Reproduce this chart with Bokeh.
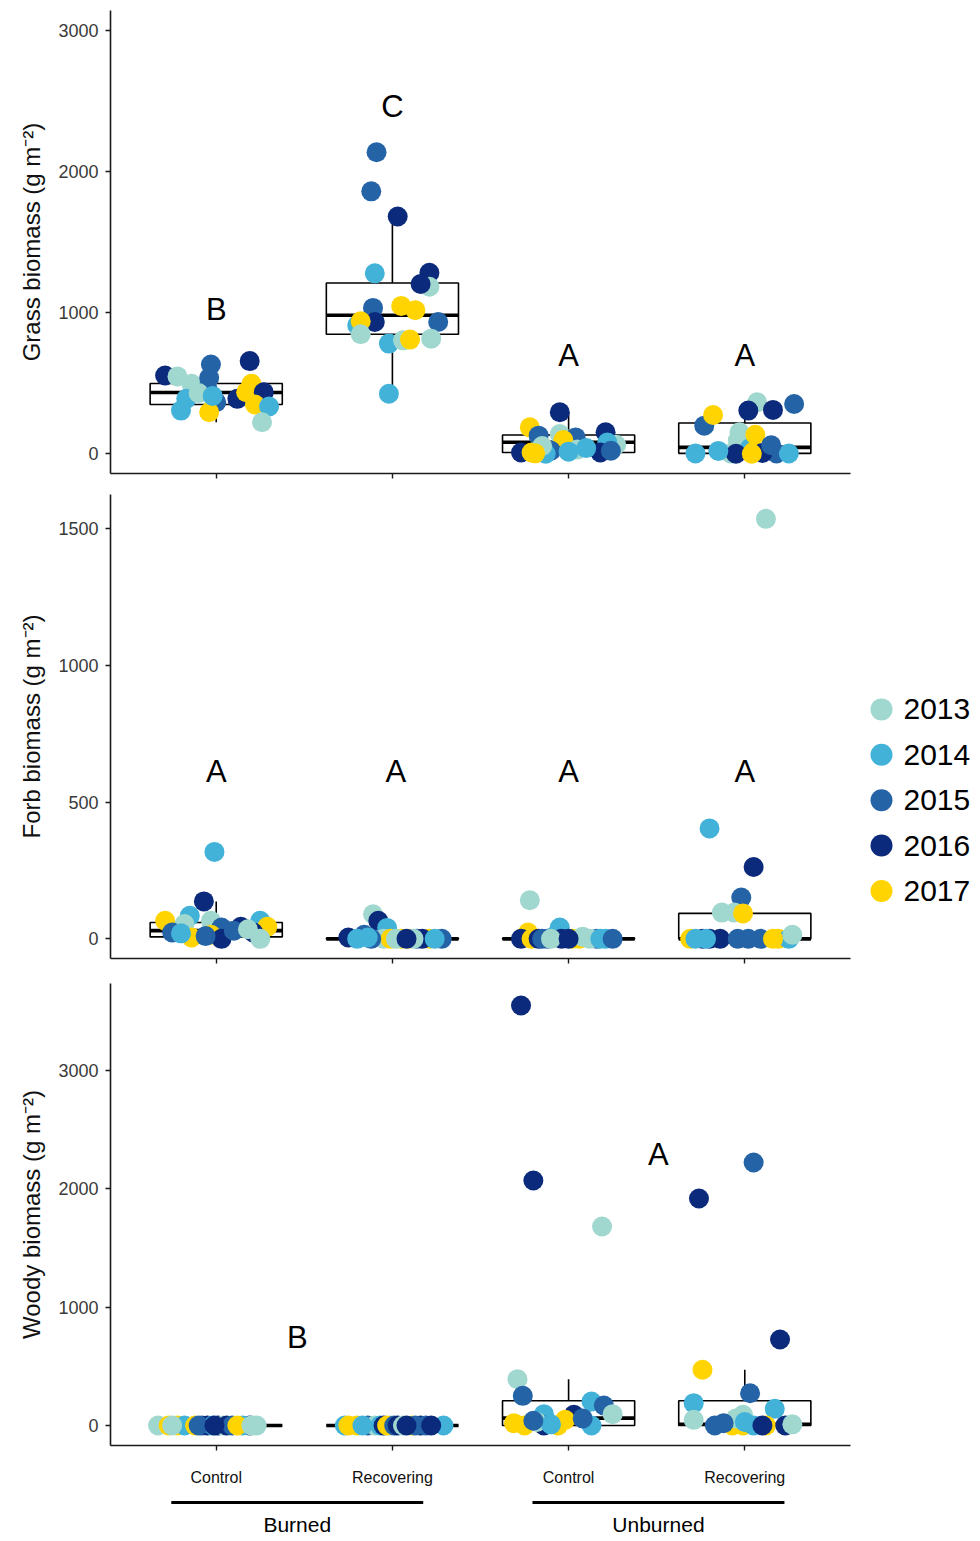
import numpy as np
from bokeh.plotting import figure
from bokeh.models import Range1d, FixedTicker
from bokeh.layouts import column, row
from bokeh.embed import file_html
from bokeh.resources import INLINE
from bokeh.core.properties import value

FONT = "Liberation Sans"

# ---------------- data ----------------
years = [2013, 2014, 2015, 2016, 2017]
year_colors = ["#a0d8cf", "#42b2d8", "#2563a7", "#0b2a7b", "#ffd400"]
group_pos = [1, 2, 3, 4]
group_labels = ["Control", "Recovering", "Control", "Recovering"]
treatments = ["Burned", "Unburned"]
treatment_center = [1.46, 3.51]

# Grass biomass: group index, year, value, horizontal jitter
grass_group = [1] * 20 + [2] * 20 + [3] * 20 + [4] * 20
grass_year = [
    2016, 2013, 2013, 2015, 2015, 2015, 2015, 2014, 2014, 2017, 2016, 2016, 2017, 2017, 2016, 2017, 2014, 2013, 2013, 2014,
    2015, 2015, 2016, 2014, 2016, 2013, 2016, 2015, 2017, 2017, 2016, 2015, 2014, 2017, 2013, 2014, 2013, 2017, 2013, 2014,
    2016, 2017, 2015, 2013, 2015, 2017, 2016, 2013, 2014, 2016, 2017, 2015, 2014, 2016, 2015, 2013, 2013, 2014, 2014, 2017,
    2013, 2016, 2016, 2015, 2015, 2017, 2013, 2013, 2014, 2017, 2014, 2013, 2017, 2015, 2014, 2016, 2016, 2015, 2014, 2017,
]
grass_value = [
    555, 548, 496, 633, 539, 460, 365, 389, 306, 294, 657, 389, 496, 436, 436, 349, 335, 223, 430, 410,
    2137, 1860, 1682, 1279, 1283, 1184, 1203, 1034, 1048, 1018, 934, 934, 911, 939, 847, 781, 804, 809, 816, 425,
    294, 187, 128, 140, 116, 97, 152, 64, 80, 9, 9, 21, 0, 9, 21, 30, 55, 40, 15, 3,
    365, 306, 311, 353, 199, 275, 152, 93, 40, 135, 2, 2, 16, 2, 2, 5, 0, 60, 20, 0,
]
grass_jitter = [
    -0.29, -0.22, -0.14, -0.03, -0.04, -0.05, 0.00, -0.17, -0.20, -0.04, 0.19, 0.12, 0.20, 0.17, 0.27, 0.22, 0.30, 0.26, -0.10, -0.02,
    -0.09, -0.12, 0.03, -0.10, 0.21, 0.21, 0.16, -0.11, 0.05, 0.13, -0.10, 0.26, -0.20, -0.18, -0.18, -0.02, 0.06, 0.10, 0.22, -0.02,
    -0.05, -0.22, -0.17, -0.05, 0.04, -0.03, 0.21, 0.27, 0.22, -0.27, -0.21, -0.10, -0.13, 0.18, 0.24, 0.05, -0.15, 0.10, 0.00, -0.19,
    0.07, 0.02, 0.16, 0.28, -0.23, -0.18, -0.03, -0.04, 0.03, 0.06, -0.28, -0.08, 0.05, 0.18, 0.25, 0.10, -0.05, 0.15, -0.15, 0.04,
]
grass_q1 = [349, 847, 9, 3]
grass_med = [434, 982, 82, 45]
grass_q3 = [498, 1210, 133, 218]
grass_lo = [223, 425, 0, 0]
grass_hi = [657, 1682, 294, 365]
grass_letters = ["B", "C", "A", "A"]
grass_letter_x = [1, 2, 3, 4]
grass_letter_y = [1025, 2463, 697, 697]

# Forb biomass
forb_group = [1] * 20 + [2] * 20 + [3] * 20 + [4] * 20
forb_year = [
    2014, 2016, 2014, 2017, 2013, 2015, 2013, 2015, 2016, 2014, 2017, 2016, 2017, 2017, 2016, 2013, 2015, 2015, 2013, 2014,
    2013, 2016, 2014, 2015, 2016, 2014, 2013, 2017, 2017, 2017, 2017, 2015, 2015, 2016, 2013, 2014, 2013, 2015, 2016, 2014,
    2013, 2014, 2017, 2016, 2017, 2016, 2015, 2014, 2016, 2017, 2017, 2013, 2015, 2014, 2013, 2015, 2014, 2013, 2016, 2015,
    2013, 2014, 2016, 2015, 2013, 2013, 2017, 2017, 2016, 2016, 2015, 2015, 2015, 2017, 2014, 2013, 2014, 2016, 2017, 2014,
]
forb_value = [
    318, 137, 84, 66, 54, 23, 66, 41, 44, 66, 44, 23, 5, 15, 0, 0, 10, 30, 35, 20,
    90, 66, 40, 15, 5, 0, 0, 0, 0, 0, 0, 0, 0, 0, 0, 0, 0, 0, 0, 5,
    141, 41, 23, 0, 0, 0, 0, 10, 0, 0, 0, 8, 0, 0, 0, 0, 0, 0, 0, 0,
    1537, 404, 263, 151, 96, 96, 93, 0, 0, 0, 0, 0, 0, 0, 0, 15, 0, 0, 0, 0,
]
forb_jitter = [
    -0.01, -0.07, -0.15, -0.29, -0.18, -0.25, -0.03, 0.03, 0.14, 0.25, 0.29, 0.21, -0.14, -0.03, 0.03, 0.25, -0.06, 0.10, 0.18, -0.20,
    -0.11, -0.08, -0.03, -0.16, -0.25, -0.20, -0.05, -0.01, 0.05, 0.09, 0.21, 0.14, 0.28, 0.17, 0.12, 0.24, 0.02, -0.12, 0.08, -0.14,
    -0.22, -0.05, -0.23, -0.27, -0.21, -0.17, -0.12, -0.08, -0.04, 0.02, 0.06, 0.08, 0.16, 0.21, 0.12, -0.15, 0.18, -0.10, 0.00, 0.25,
    0.12, -0.20, 0.05, -0.02, -0.13, -0.06, -0.01, -0.31, -0.24, -0.14, -0.04, 0.02, 0.09, 0.19, 0.25, 0.27, -0.28, -0.20, 0.16, -0.22,
]
forb_q1 = [7, 0, 0, 0]
forb_med = [30, 0, 0, 0]
forb_q3 = [60, 2, 2, 93]
forb_lo = [0, 0, 0, 0]
forb_hi = [137, 5, 10, 151]
forb_letters = ["A", "A", "A", "A"]
forb_letter_x = [1, 2.02, 3, 4]
forb_letter_y = [611, 611, 611, 611]

# Woody biomass
woody_group = [1] * 20 + [2] * 20 + [3] * 20 + [4] * 20
woody_year = [
    2013, 2017, 2017, 2014, 2017, 2015, 2016, 2016, 2013, 2014, 2016, 2015, 2016, 2014, 2017, 2013, 2015, 2016, 2013, 2013,
    2014, 2017, 2017, 2015, 2013, 2014, 2016, 2013, 2017, 2015, 2016, 2017, 2016, 2013, 2015, 2014, 2015, 2016, 2016, 2014,
    2016, 2016, 2013, 2013, 2015, 2014, 2016, 2014, 2015, 2013, 2014, 2017, 2017, 2016, 2017, 2017, 2013, 2014, 2015, 2015,
    2015, 2016, 2016, 2017, 2015, 2014, 2014, 2013, 2013, 2015, 2017, 2017, 2017, 2014, 2016, 2013, 2013, 2014, 2015, 2016,
]
woody_value = [
    0, 0, 0, 0, 0, 0, 0, 0, 0, 0, 0, 0, 0, 0, 0, 0, 0, 0, 0, 0,
    0, 0, 0, 0, 0, 0, 0, 0, 0, 0, 0, 0, 0, 0, 0, 0, 0, 0, 0, 0,
    3550, 2071, 1682, 392, 251, 96, 90, 203, 169, 96, 0, 20, 0, 0, 0, 48, 30, 10, 40, 60,
    2223, 1919, 727, 471, 273, 189, 141, 48, 90, 0, 0, 0, 0, 0, 0, 10, 60, 30, 20, 0,
]
woody_jitter = [
    -0.33, -0.27, -0.22, -0.18, -0.12, -0.08, -0.05, 0.01, 0.04, -0.02, 0.06, 0.09, 0.19, 0.15, 0.12, 0.23, -0.10, -0.01, -0.25, 0.20,
    -0.27, -0.25, -0.20, -0.14, -0.10, -0.07, -0.05, -0.01, -0.03, 0.01, 0.03, 0.11, 0.16, 0.06, 0.13, 0.29, 0.19, 0.08, 0.22, -0.17,
    -0.27, -0.20, 0.19, -0.29, -0.26, -0.14, 0.03, 0.13, 0.20, 0.25, 0.13, -0.31, -0.25, -0.14, -0.06, -0.02, -0.18, -0.10, -0.20, 0.08,
    0.05, -0.26, 0.20, -0.24, 0.03, -0.29, 0.17, -0.29, -0.01, -0.17, -0.07, -0.01, 0.12, 0.05, 0.23, 0.27, -0.05, 0.00, -0.12, 0.10,
]
woody_q1 = [0, 0, 0, 0]
woody_med = [0, 0, 62, 11]
woody_q3 = [0, 0, 209, 209]
woody_lo = [0, 0, 0, 0]
woody_hi = [0, 0, 392, 471]
woody_letters = ["B", "A"]
woody_letter_x = [1.46, 3.51]
woody_letter_y = [744, 2291]

# ---------------- drawing ----------------
AXIS_COL = "#1a1a1a"
TICK_LABEL_COL = "#3a3a3a"
BOX_HALF = 0.375
LEFT = 110
FRAME_W = 740
FIG_W = 860


def make_panel(height, top, bottom, yrange, yticks, ylabel, grp, yr, val, jit,
               q1, med, q3, lo, hi, letters, lx, ly, xlabels):
    p = figure(width=FIG_W, height=height, output_backend="svg", toolbar_location=None,
               x_range=Range1d(0.4, 4.6), y_range=Range1d(*yrange),
               min_border_left=LEFT, min_border_right=FIG_W - LEFT - FRAME_W,
               min_border_top=top, min_border_bottom=bottom)
    p.outline_line_color = None
    p.xgrid.visible = False
    p.ygrid.visible = False
    for ax in (p.xaxis[0], p.yaxis[0]):
        ax.axis_line_color = AXIS_COL
        ax.axis_line_width = 1.6
        ax.major_tick_line_color = AXIS_COL
        ax.major_tick_line_width = 1.4
        ax.major_tick_out = 5
        ax.major_tick_in = 0
        ax.minor_tick_line_color = None
        ax.major_label_text_font = FONT
    p.yaxis.ticker = FixedTicker(ticks=yticks)
    p.yaxis.major_label_text_font_size = "18px"
    p.yaxis.major_label_text_color = TICK_LABEL_COL
    p.yaxis.major_label_standoff = 7
    p.yaxis.axis_label = ylabel
    p.yaxis.axis_label_text_font = FONT
    p.yaxis.axis_label_text_font_size = "24px"
    p.yaxis.axis_label_text_font_style = "normal"
    p.yaxis.axis_label_text_color = "#111111"
    p.yaxis.axis_label_standoff = 10
    p.xaxis.ticker = FixedTicker(ticks=group_pos)
    if xlabels:
        p.xaxis.major_label_overrides = {g: lab for g, lab in zip(group_pos, group_labels)}
        p.xaxis.major_label_text_font_size = "16px"
        p.xaxis.major_label_text_color = "#111111"
        p.xaxis.major_label_standoff = 18
    else:
        p.xaxis.major_label_overrides = {g: "" for g in group_pos}

    g = np.array(group_pos, dtype=float)
    # boxes
    p.segment(x0=g, x1=g, y0=q3, y1=hi, line_color="black", line_width=1.6)
    p.segment(x0=g, x1=g, y0=lo, y1=q1, line_color="black", line_width=1.6)
    p.quad(left=g - BOX_HALF, right=g + BOX_HALF, bottom=q1, top=q3,
           fill_color="white", line_color="black", line_width=1.6)
    p.segment(x0=g - BOX_HALF, x1=g + BOX_HALF, y0=med, y1=med, line_color="black", line_width=3.6)

    # points
    xs = np.array(grp, dtype=float) + np.array(jit)
    cmap = dict(zip(years, year_colors))
    cols = [cmap[y] for y in yr]
    p.scatter(x=xs, y=val, size=20, fill_color=cols, line_color=None)

    # letters
    p.text(x=lx, y=ly, text=letters, text_align="center", text_baseline="middle",
           text_font=value(FONT), text_font_size="31px", text_color="black")
    return p


p1 = make_panel(488, 10, 15, (-140, 3142), [0, 1000, 2000, 3000], "Grass biomass (g m⁻²)",
                grass_group, grass_year, grass_value, grass_jitter,
                grass_q1, grass_med, grass_q3, grass_lo, grass_hi,
                grass_letters, grass_letter_x, grass_letter_y, False)
p2 = make_panel(488, 6, 18, (-72, 1626), [0, 500, 1000, 1500], "Forb biomass (g m⁻²)",
                forb_group, forb_year, forb_value, forb_jitter,
                forb_q1, forb_med, forb_q3, forb_lo, forb_hi,
                forb_letters, forb_letter_x, forb_letter_y, False)
p3 = make_panel(514, 7, 45, (-169, 3736), [0, 1000, 2000, 3000], "Woody biomass (g m⁻²)",
                woody_group, woody_year, woody_value, woody_jitter,
                woody_q1, woody_med, woody_q3, woody_lo, woody_hi,
                woody_letters, woody_letter_x, woody_letter_y, True)

# treatment labels below bottom panel
p4 = figure(width=FIG_W, height=51, output_backend="svg", toolbar_location=None,
            x_range=p3.x_range, y_range=Range1d(51, 0),
            min_border_left=LEFT, min_border_right=FIG_W - LEFT - FRAME_W,
            min_border_top=0, min_border_bottom=0)
p4.outline_line_color = None
p4.xaxis.visible = False
p4.yaxis.visible = False
p4.xgrid.visible = False
p4.ygrid.visible = False
tc = np.array(treatment_center)
p4.segment(x0=tc - 0.715, x1=tc + 0.715, y0=[12, 12], y1=[12, 12], line_color="black", line_width=3)
p4.text(x=tc, y=[34, 34], text=treatments, text_align="center", text_baseline="middle",
        text_font=value(FONT), text_font_size="21px", text_color="black")

# legend
pl = figure(width=120, height=488, output_backend="svg", toolbar_location=None,
            x_range=Range1d(0, 120), y_range=Range1d(488, 0),
            min_border_left=0, min_border_right=0, min_border_top=0, min_border_bottom=0)
pl.outline_line_color = None
pl.xaxis.visible = False
pl.yaxis.visible = False
pl.xgrid.visible = False
pl.ygrid.visible = False
ly = [226 + 47.75 * i for i in range(len(years))]
pl.scatter(x=[21] * len(years), y=ly, size=22, fill_color=year_colors, line_color=None)
pl.text(x=[43] * len(years), y=ly, text=[str(y) for y in years], text_baseline="middle",
        text_font=value(FONT), text_font_size="30px", text_color="black")

layout = column(p1, row(p2, pl), p3, p4)
open("out.html", "w").write(file_html(layout, INLINE))
